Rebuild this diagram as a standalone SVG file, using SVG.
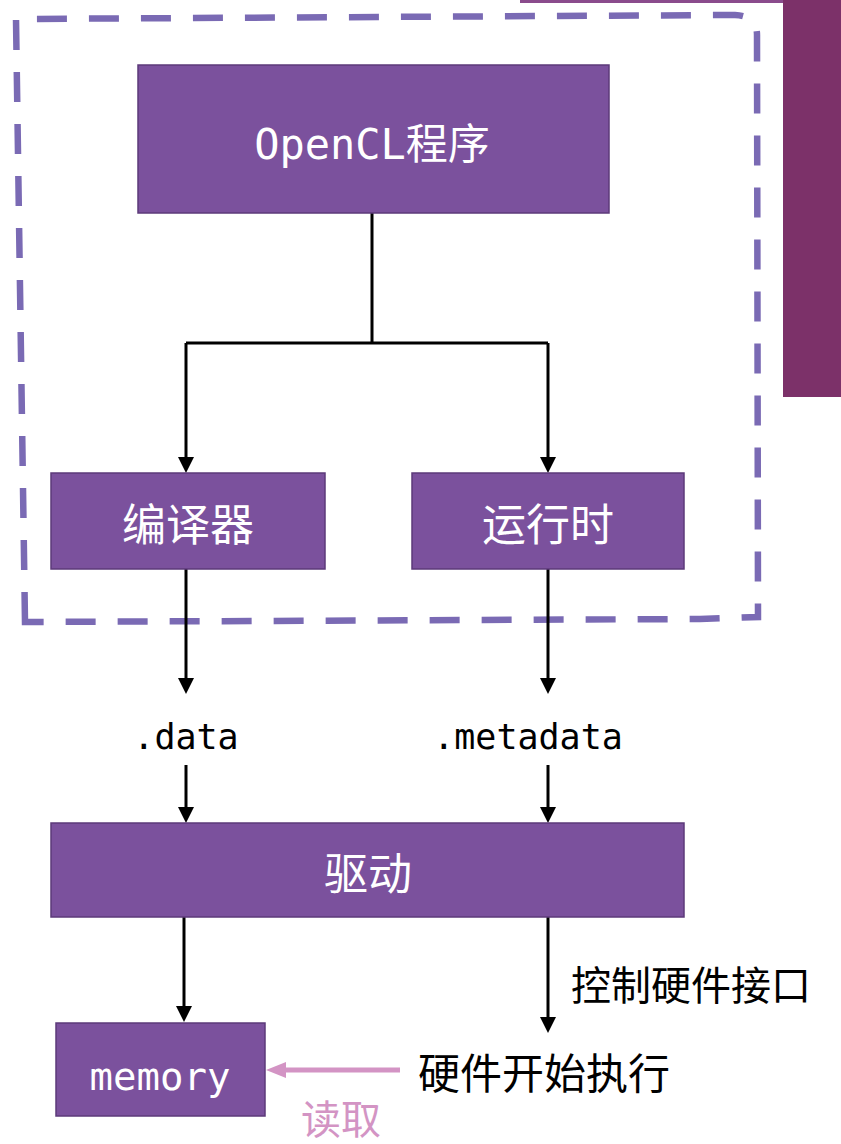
<svg xmlns="http://www.w3.org/2000/svg" width="841" height="1144" viewBox="0 0 841 1144">
<defs>
<style>
.box{fill:#7b519d;stroke:#5c3a7a;stroke-width:1.5}
.wt{fill:#ffffff;font-family:"Noto Sans CJK SC","DejaVu Sans",sans-serif;text-anchor:middle}
.mono{font-family:"DejaVu Sans Mono","Noto Sans CJK SC",monospace}
.lbl{fill:#000000;font-family:"Noto Sans CJK SC",sans-serif}
.lblm{fill:#000000;font-family:"DejaVu Sans Mono",monospace;text-anchor:middle}
.conn{stroke:#000000;stroke-width:3;fill:none}
</style>
<marker id="ah" markerUnits="userSpaceOnUse" markerWidth="16" markerHeight="16" viewBox="0 0 16 16" refX="8" refY="8" orient="auto">
<path d="M0,0 L16,8 L0,16 Z" fill="#000000"/>
</marker>
<marker id="ahp" markerUnits="userSpaceOnUse" markerWidth="20" markerHeight="16" viewBox="0 0 20 16" refX="10" refY="8" orient="auto">
<path d="M0,0 L20,8 L0,16 Z" fill="#d394c4"/>
</marker>
</defs>
<rect x="0" y="0" width="841" height="1144" fill="#ffffff"/>
<rect x="520" y="0" width="263" height="3" fill="#8a4b8c"/>
<rect x="783" y="0" width="58" height="397" fill="#7c3169"/>
<path d="M25,622 L16,19 L735,15 Q757,16 757,35 L758,617 L700,619 L25,622 Z" fill="none" stroke="#7a6ab4" stroke-width="6.5" stroke-dasharray="30 22"/>
<g id="connectors">
<path class="conn" d="M372,213 V343 M186,343 H548"/>
<line class="conn" x1="186" y1="343" x2="186" y2="465" marker-end="url(#ah)"/>
<line class="conn" x1="548" y1="343" x2="548" y2="465" marker-end="url(#ah)"/>
<line class="conn" x1="186" y1="569" x2="186" y2="686" marker-end="url(#ah)"/>
<line class="conn" x1="548" y1="569" x2="548" y2="686" marker-end="url(#ah)"/>
<line class="conn" x1="186" y1="765" x2="186" y2="815" marker-end="url(#ah)"/>
<line class="conn" x1="548" y1="765" x2="548" y2="815" marker-end="url(#ah)"/>
<line class="conn" x1="184" y1="917" x2="184" y2="1014" marker-end="url(#ah)"/>
<line class="conn" x1="548" y1="917" x2="548" y2="1025" marker-end="url(#ah)"/>
<line x1="400" y1="1070" x2="276" y2="1070" stroke="#d394c4" stroke-width="5" marker-end="url(#ahp)"/>
</g>
<g id="opencl">
<rect class="box" x="138" y="65" width="471" height="148"/>
<text class="wt" x="372" y="159" font-size="42"><tspan class="mono">OpenCL</tspan>程序</text>
</g>
<g id="compiler">
<rect class="box" x="51" y="473" width="274" height="96"/>
<text class="wt" x="188" y="541" font-size="44">编译器</text>
</g>
<g id="runtime">
<rect class="box" x="412" y="473" width="272" height="96"/>
<text class="wt" x="548" y="541" font-size="44">运行时</text>
</g>
<g id="data">
<text class="lblm" x="186" y="749" font-size="35">.data</text>
</g>
<g id="metadata">
<text class="lblm" x="528" y="749" font-size="35">.metadata</text>
</g>
<g id="driver">
<rect class="box" x="51" y="823" width="633" height="94"/>
<text class="wt" x="368" y="890" font-size="44">驱动</text>
</g>
<g id="memory">
<rect class="box" x="56" y="1023" width="209" height="93"/>
<text class="wt mono" x="160" y="1090" font-size="39">memory</text>
</g>
<g id="hwif">
<text class="lbl" x="571" y="1000" font-size="40">控制硬件接口</text>
</g>
<g id="hwexec">
<text class="lbl" x="418" y="1089" font-size="42">硬件开始执行</text>
</g>
<g id="read">
<text x="301" y="1134" font-size="40" fill="#d394c4" font-family="Noto Sans CJK SC,sans-serif">读取</text>
</g>
</svg>
